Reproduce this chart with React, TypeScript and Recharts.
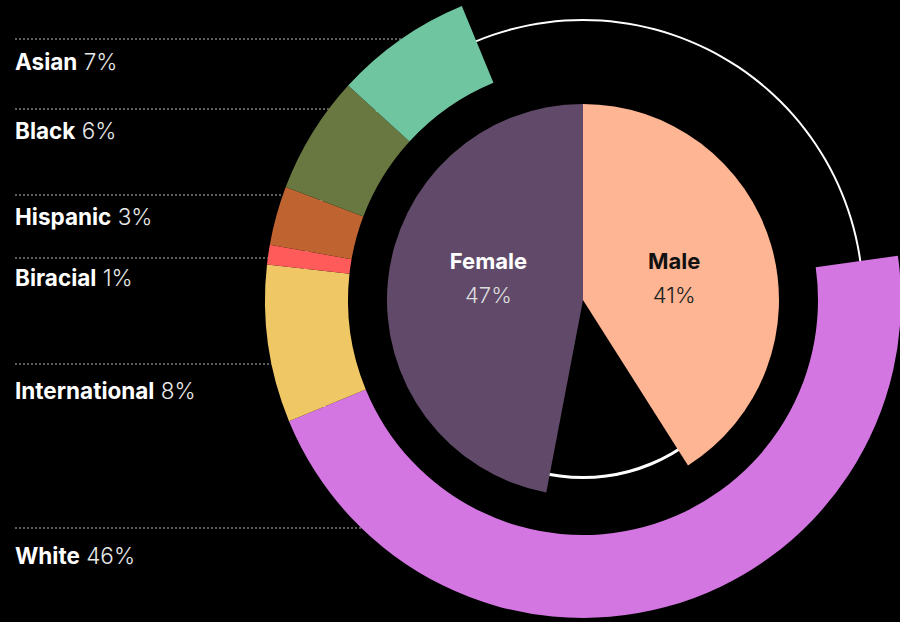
import React from 'react';
import { PieChart, Pie, Cell } from 'recharts';

const groups = ['White', 'International', 'Biracial', 'Hispanic', 'Black', 'Asian'];
const groupShares = [46, 8, 1, 3, 6, 7];
const groupColors = ['#d376e2', '#efc765', '#ff5b5b', '#bf6331', '#687840', '#6fc5a0'];

const genders = ['Male', 'Female'];
const genderShares = [41, 47];
const genderColors = ['#fdb593', '#614a69'];

// left-hand legend, top to bottom
const legendNames = ['Asian', 'Black', 'Hispanic', 'Biracial', 'International', 'White'];
const legendShares = [7, 6, 3, 1, 8, 46];
const legendLineY = [39, 109, 195, 258, 364, 528];
const legendTextY = [70, 139, 225, 286, 399, 564];

const W = 900;
const H = 622;
const CX = 583;
const CY = 300;
const RING_IN = 235;
const RING_OUT = 318;
const PIE_R = 196;
const FONT = 'Inter, "Noto Sans", sans-serif';

const restOf = (arr: number[]) => 100 - arr.reduce((a, b) => a + b, 0);

const ringData = [
  ...groups.map((name, i) => ({ name, value: groupShares[i] })),
  { name: 'rest', value: restOf(groupShares) },
];

const genderData = [
  { name: genders[0], value: genderShares[0] },
  { name: 'rest', value: restOf(genderShares) },
  { name: genders[1], value: genderShares[1] },
];

const RADIAN = Math.PI / 180;

const genderLabel = (props: any) => {
  const { cx, cy, midAngle, name, value } = props;
  if (name === 'rest') return null;
  const x = cx + 95 * Math.cos(-midAngle * RADIAN);
  const y = cy - 21;
  const dark = name === 'Male';
  return (
    <g>
      <text x={x} y={y - 10} textAnchor="middle" fontFamily={FONT} fontSize={22} fontWeight={700}
        fill={dark ? '#111' : '#fff'}>
        {name}
      </text>
      <text x={x} y={y + 24} textAnchor="middle" fontFamily={FONT} fontSize={22} fontWeight={300}
        fill={dark ? '#222' : '#ddd'}>
        {value}%
      </text>
    </g>
  );
};

export default function App() {
  return (
    <div style={{ position: 'absolute', left: 0, top: 0, width: W, height: H, background: '#000', overflow: 'hidden' }}>
      <svg width={W} height={H} style={{ position: 'absolute', left: 0, top: 0 }}>
        {legendNames.map((name, i) => {
          const dy = CY - legendLineY[i];
          const xEnd = CX - Math.sqrt(RING_OUT * RING_OUT - dy * dy);
          return (
            <g key={name}>
              <line x1={15} x2={xEnd} y1={legendLineY[i]} y2={legendLineY[i]}
                stroke="#bbb" strokeWidth={1} strokeDasharray="2 2" />
              <text x={15} y={legendTextY[i]} fontFamily={FONT} fontSize={22.5} fill="#fff">
                <tspan fontWeight={700}>{name}</tspan>
                <tspan fontWeight={300} fill="#e8e8e8"> {legendShares[i]}%</tspan>
              </text>
            </g>
          );
        })}
      </svg>
      <div style={{ position: 'absolute', left: 0, top: 0 }}>
        <PieChart width={W} height={H} margin={{ top: 0, right: 0, bottom: 0, left: 0 }}>
          <Pie data={[{ name: 'track', value: 1 }]} dataKey="value" cx={CX} cy={CY}
            innerRadius={279} outerRadius={281} startAngle={0} endAngle={360}
            fill="#fff" stroke="none" isAnimationActive={false} />
          <Pie data={ringData} dataKey="value" cx={CX} cy={CY}
            innerRadius={RING_IN} outerRadius={RING_OUT} startAngle={8} endAngle={-352}
            stroke="none" isAnimationActive={false}>
            {ringData.map((d, i) => (
              <Cell key={d.name} fill={d.name === 'rest' ? 'transparent' : groupColors[i]} />
            ))}
          </Pie>
          <Pie data={[{ name: 'track', value: 1 }]} dataKey="value" cx={CX} cy={CY}
            innerRadius={176} outerRadius={179} startAngle={0} endAngle={360}
            fill="#fff" stroke="none" isAnimationActive={false} />
          <Pie data={genderData} dataKey="value" cx={CX} cy={CY}
            innerRadius={0} outerRadius={PIE_R} startAngle={90} endAngle={-270}
            stroke="none" labelLine={false} label={genderLabel} isAnimationActive={false}>
            {genderData.map((d) => (
              <Cell key={d.name} fill={d.name === 'rest' ? 'transparent' : genderColors[genders.indexOf(d.name)]} />
            ))}
          </Pie>
        </PieChart>
      </div>
    </div>
  );
}
